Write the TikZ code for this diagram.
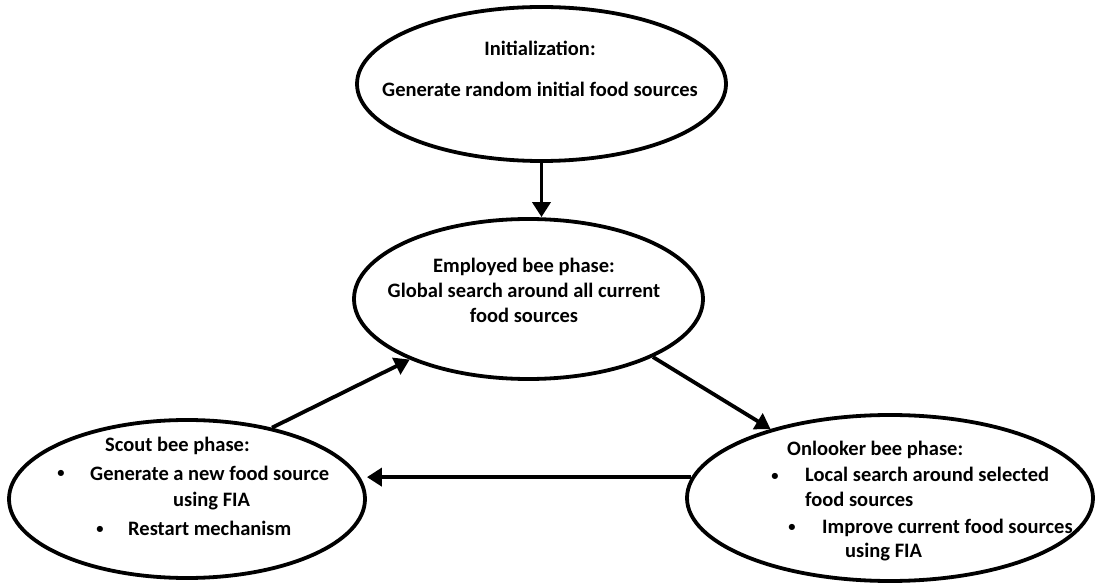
\documentclass[tikz,border=0pt]{standalone}
\usepackage{fontspec}
\setmainfont{Carlito}
\usetikzlibrary{shapes.geometric,arrows.meta}
\begin{document}
\begin{tikzpicture}[x=1pt,y=-1pt,
  phase/.style={ellipse,draw,line width=3.8pt,inner sep=0pt},
  txt/.style={inner sep=0pt,font=\fontsize{20.5}{25}\selectfont\bfseries},
  bul/.style={inner sep=0pt,anchor=base,font=\fontsize{14.5}{18}\selectfont\bfseries},
  flow/.style={line width=3.8pt,-{Triangle[length=15pt,width=18pt]}}]
\useasboundingbox (0,0) rectangle (1096,585);
% ellipses
\node[phase,minimum width=369pt,minimum height=154pt] (init) at (541.5,84) {};
\node[phase,minimum width=349pt,minimum height=160pt] (emp) at (528.5,299) {};
\node[phase,minimum width=356pt,minimum height=158pt] (scout) at (187,499) {};
\node[phase,minimum width=406pt,minimum height=166pt] (onl) at (890,498) {};
% init text
\node[txt,anchor=base] (i1) at (540,56) {Initialization:};
\node[txt,anchor=base] (i2) at (540,97) {Generate random initial food sources};
% employed text
\node[txt,anchor=base] (e1) at (524,273) {Employed bee phase:};
\node[txt,anchor=base] (e2) at (524,298) {Global search around all current};
\node[txt,anchor=base] (e3) at (524,323) {food sources};
% scout text
\node[txt,anchor=base west] (s1) at (105,451) {Scout bee phase:};
\node[bul] (sb1) at (61,478) {•};
\node[txt,anchor=base west] (s2) at (90,480) {Generate a new food source};
\node[txt,anchor=base west] (s3) at (173,507) {using FIA};
\node[bul] (sb2) at (100,533) {•};
\node[txt,anchor=base west] (s4) at (128,535) {Restart mechanism};
% onlooker text
\node[txt,anchor=base west] (o1) at (787,456) {Onlooker bee phase:};
\node[bul] (ob1) at (775,480) {•};
\node[txt,anchor=base west] (o2) at (805,482) {Local search around selected};
\node[txt,anchor=base west] (o3) at (805,507) {food sources};
\node[bul] (ob2) at (792,531) {•};
\node[txt,anchor=base west] (o4) at (822,533) {Improve current food sources};
\node[txt,anchor=base west] (o5) at (845,557) {using FIA};
% connectors
\draw[flow] (init.south) -- (init.south |- emp.north);
\draw[flow] (scout.40) -- (emp.207);
\draw[flow] (emp.335) -- (onl.150);
\draw[flow] (onl.174) -- (onl.174 -| scout.east);
\end{tikzpicture}
\end{document}
